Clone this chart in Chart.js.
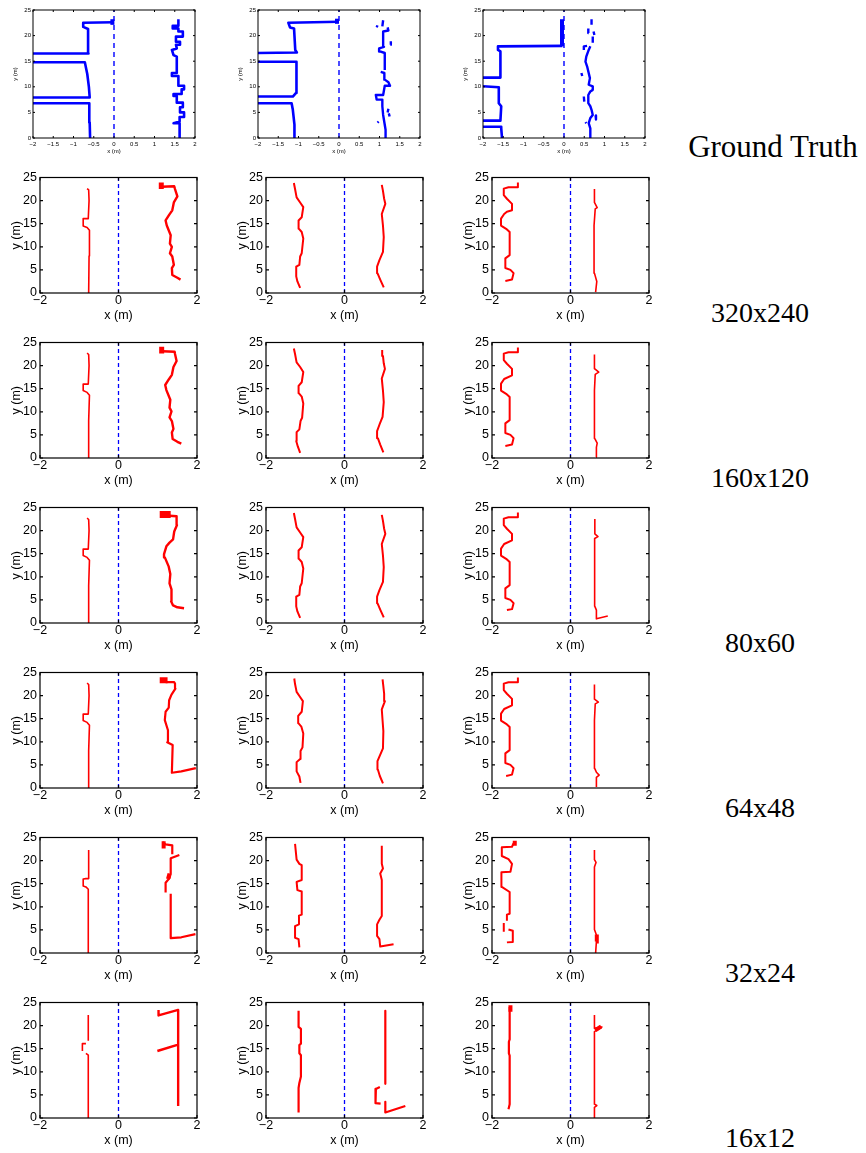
<!DOCTYPE html>
<html>
<head>
<meta charset="utf-8">
<script src="https://cdn.jsdelivr.net/npm/chart.js@4.4.1/dist/chart.umd.min.js"></script>
<style>
  html, body { margin: 0; padding: 0; background: #fff; }
  body { position: relative; width: 866px; height: 1153px; overflow: hidden; }
  canvas { position: absolute; }
  .rowlabel {
    position: absolute; transform: translate(-50%, -50%);
    font-family: "Liberation Serif", "Times New Roman", serif;
    font-size: 28px; color: #000; white-space: nowrap;
  }
  .rowlabel.big { font-size: 31px; }
</style>
</head>
<body>
<script>
// ---- axis ticks and reference line ----
const X_TICKS_FINE = [-2, -1.5, -1, -0.5, 0, 0.5, 1, 1.5, 2];
const X_TICKS = [-2, 0, 2];
const Y_TICKS = [0, 5, 10, 15, 20, 25];
const CENTER_LINE = [[0, 0], [0, 25]];
const ROW_NAMES = ['Ground Truth', '320x240', '160x120', '80x60', '64x48', '32x24', '16x12'];

// ---- ground truth wall maps (x, y in metres; null breaks a line) ----
const gtA_left = [[-0.59,0],[-0.6,3],[-0.61,6.8],[-2,6.8],null,
  [-2,7.9],[-0.6,7.9],[-0.62,10],[-0.66,12.5],[-0.72,14.8],[-2,14.8],null,
  [-2,16.5],[-0.63,16.5],[-0.64,21.3],[-0.76,21.7],[-0.76,22.5],[0,22.6]];
const gtA_right = [[1.62,0],[1.62,2.9],[1.47,2.9],[1.62,3.2],[1.62,4.1],[1.73,4.1],[1.73,5.0],[1.63,5.0],
  [1.63,6.0],[1.70,6.0],[1.70,6.9],[1.55,6.9],[1.55,8.2],[1.47,8.2],[1.47,8.6],[1.67,8.6],[1.67,9.5],
  [1.73,9.5],[1.73,10.2],[1.59,10.2],[1.59,12.1],[1.43,12.1],[1.43,12.7],[1.55,12.7],[1.55,15.9],
  [1.47,16.2],[1.43,17.2],[1.55,17.5],[1.53,18.2],[1.63,18.2],[1.63,18.8],[1.53,18.8],[1.53,19.8],
  [1.70,19.8],[1.70,20.8],[1.59,20.8],[1.59,21.4],[1.45,21.4],[1.45,21.9],[1.59,21.9],[1.59,23.2]];
const gtA_blob = [[-0.04,22.1],[-0.04,23.2]];

const gtB_left = [[-1.11,0],[-1.11,2.4],[-1.09,2.6],[-1.14,5.5],[-1.17,6.8],[-2,6.8],null,
  [-2,8.1],[-1.14,8.1],[-1.06,8.8],[-1.06,14.6],[-1.04,14.9],[-2,14.9],null,
  [-2,16.6],[-1.04,16.7],[-1.08,17.2],[-1.11,21.4],[-1.21,21.6],[-1.25,22.5],[0,22.7]];
const gtB_right = [[1.16,0],[1.15,1.6],[1.09,4.5],[1.07,6.2],[1.07,7.5],[0.93,7.5],[0.91,8.4],[1.09,8.4],
  [1.13,10.2],[1.26,10.2],[1.22,10.9],[1.13,11.4],[1.12,12.7],[1.03,12.9],null,
  [1.13,13.3],[1.13,16.6],[1.01,16.9],[0.99,17.5],[1.11,17.8],[1.09,20.8],[1.22,21.0],[1.2,21.6],null,
  [1.07,21.8],[1.09,23.0],null,
  [1.25,4.2],[1.23,4.8],null,[0.95,3.0],[0.98,3.2],null,[1.27,18.2],[1.28,18.9],null,
  [0.93,21.6],[0.95,22.0],null,[1.2,5.0],[1.22,5.7]];
const gtB_blob = [[-0.05,22.3],[-0.05,23.3]];

const gtC_left = [[-1.53,0],[-1.55,1.9],[-1.55,2.2],[-2,2.2],null,
  [-2,3.4],[-1.57,3.4],[-1.55,6.2],[-1.61,6.8],[-1.61,9.9],[-2,10.1],null,
  [-2,11.8],[-1.57,11.8],[-1.57,16.9],[-1.63,17.2],[-1.63,17.9],[-0.04,18.0]];
const gtC_right = [[0.65,0],[0.65,1.9],[0.61,2.9],[0.65,3.9],[0.71,4.5],[0.68,5.5],[0.65,6.2],[0.6,6.8],
  [0.6,8.4],[0.65,9.1],[0.71,9.4],[0.71,10.1],[0.61,10.4],[0.64,11.7],[0.57,14],[0.53,14.9],[0.55,15.9],
  [0.61,17.2],[0.65,17.9],null,[0.49,17.2],[0.49,17.9],[0.57,18],null,[0.71,18.6],[0.71,19.8],null,
  [0.61,20.5],[0.6,21.4],null,[0.68,22.1],[0.68,23.2],null,
  [0.49,8.1],[0.5,7.1],null,[0.43,12.7],[0.45,12.1],null,[0.53,3.1],[0.55,2.9],null,
  [0.78,4.4],[0.79,3.6],null,[0.73,20.8],[0.75,20.1]];
const gtC_blob = [[-0.05,17.9],[-0.05,23.2]];

// ---- reconstructed wall maps, 320x240 ----
const r320A_left = [[-0.76,0],[-0.75,8],[-0.74,13.6],[-0.8,14.2],[-0.9,14.5],[-0.9,16.1],[-0.77,16.1],
  [-0.75,20],[-0.76,22.3],[-0.8,22.6]];
const r320A_right = [[1.58,2.9],[1.5,3.3],[1.37,3.9],[1.36,5.4],[1.41,6.1],[1.37,7.9],[1.31,8.6],[1.36,10],
  [1.31,10.7],[1.33,12.5],[1.23,14.6],[1.2,15.7],[1.29,16.9],[1.37,17.9],[1.41,19.6],[1.5,20.9],
  [1.44,22.5],[1.42,23.1],[1.1,23.0]];
const r320A_blob = [[1.09,22.5],[1.09,23.9]];
const r320B_left = [[-1.13,1.1],[-1.2,2.5],[-1.23,3.6],[-1.23,5.7],[-1.15,6.1],[-1.13,7.9],[-1.09,8.6],
  [-1.05,11.8],[-1.09,13.2],[-1.16,13.9],[-1.17,15.7],[-1.09,16.4],[-1.05,18.6],[-1.13,19.6],
  [-1.22,20.7],[-1.26,22.5],[-1.29,23.8]];
const r320B_right = [[1.0,1.2],[0.91,2.9],[0.84,4.3],[0.83,5.7],[0.89,7.1],[0.98,8.9],[1.0,12.1],
  [0.98,14.6],[0.95,17.1],[1.04,19.3],[1.01,20.4],[0.98,22.1],[0.95,23.4]];
const r320C_left = [[-1.66,2.6],[-1.49,2.9],[-1.45,4.3],[-1.53,5.0],[-1.66,5.4],[-1.66,7.5],[-1.55,8.2],
  [-1.55,11.1],[-1.55,13.2],[-1.64,13.9],[-1.77,14.6],[-1.77,16.1],[-1.69,17.1],[-1.62,17.6],
  [-1.49,17.9],[-1.49,19.3],[-1.62,20.4],[-1.7,21.2],[-1.7,22.6],[-1.58,22.9],[-1.36,22.9],[-1.34,23.9]];
const r320C_right = [[0.64,0.2],[0.67,2.5],[0.61,4.3],[0.6,14.6],[0.63,18.2],[0.68,18.5],[0.61,19.6],[0.61,22.5]];

// ---- 160x120 ----
const r160A_left = [[-0.77,0],[-0.76,8],[-0.74,13.6],[-0.8,14.2],[-0.9,14.6],[-0.9,16.0],[-0.77,16.0],
  [-0.75,20],[-0.76,22.4],[-0.8,22.7]];
const r160A_right = [[1.6,3.1],[1.5,3.5],[1.38,4.1],[1.36,5.5],[1.4,6.3],[1.36,8.0],[1.3,8.8],[1.35,10.1],
  [1.3,10.9],[1.32,12.6],[1.22,14.7],[1.19,15.8],[1.28,17.0],[1.36,18.0],[1.4,19.7],[1.48,21.0],
  [1.44,22.5],[1.43,23.0],[1.12,23.1]];
const r160A_blob = [[1.1,22.6],[1.1,24.1]];
const r160B_left = [[-1.13,1.1],[-1.19,2.5],[-1.23,3.7],[-1.22,5.6],[-1.15,6.2],[-1.12,8.0],[-1.08,8.7],
  [-1.05,11.8],[-1.09,13.3],[-1.16,14.0],[-1.17,15.6],[-1.09,16.4],[-1.05,18.6],[-1.13,19.7],
  [-1.22,20.7],[-1.26,22.5],[-1.29,23.7]];
const r160B_right = [[0.99,1.2],[0.91,2.9],[0.85,4.3],[0.83,5.8],[0.89,7.2],[0.97,8.9],[1.0,12.1],
  [0.98,14.6],[0.95,17.2],[1.03,19.3],[1.0,20.5],[0.98,22.1],[0.96,23.4]];
const r160C_left = [[-1.66,2.6],[-1.49,2.9],[-1.45,4.3],[-1.53,5.0],[-1.66,5.4],[-1.66,7.5],[-1.55,8.2],
  [-1.55,13.2],[-1.64,13.9],[-1.77,14.6],[-1.77,16.1],[-1.69,17.1],[-1.49,17.9],[-1.49,19.3],
  [-1.62,20.4],[-1.7,21.2],[-1.7,22.6],[-1.58,22.9],[-1.36,22.9],[-1.34,23.9]];
const r160C_right = [[0.65,0.2],[0.66,2.3],[0.68,3.2],[0.62,4.2],[0.61,14.6],[0.63,18.1],[0.72,18.6],
  [0.62,19.3],[0.61,22.4]];

// ---- 80x60 ----
const r80A_left = [[-0.77,0],[-0.76,8],[-0.74,13.6],[-0.8,14.2],[-0.9,14.6],[-0.9,16.0],[-0.77,16.0],
  [-0.75,20],[-0.76,22.4],[-0.8,22.7]];
const r80A_right = [[1.67,3.2],[1.5,3.4],[1.39,3.8],[1.34,4.7],[1.36,6],[1.34,7.3],[1.3,8.6],[1.32,10.6],
  [1.28,12.2],[1.18,14.2],[1.16,14.9],[1.22,16.6],[1.3,17.4],[1.39,18.1],[1.42,19.8],[1.49,21.2],
  [1.49,22.4],[1.47,23.1],[1.3,23.2]];
const r80A_blob = [[1.05,23.5],[1.33,23.5]];
const r80B_left = [[-1.13,1.1],[-1.2,2.5],[-1.23,3.6],[-1.23,5.7],[-1.15,6.1],[-1.13,7.9],[-1.09,8.6],
  [-1.05,11.8],[-1.09,13.2],[-1.16,13.9],[-1.17,15.7],[-1.09,16.4],[-1.05,18.6],[-1.13,19.6],
  [-1.22,20.7],[-1.26,22.5],[-1.29,23.8]];
const r80B_right = [[1.0,1.2],[0.91,2.9],[0.84,4.3],[0.83,5.7],[0.89,7.1],[0.98,8.9],[1.0,12.1],
  [0.98,14.6],[0.95,17.1],[1.04,19.3],[1.01,20.4],[0.98,22.1],[0.95,23.4]];
const r80C_left = [[-1.62,2.8],[-1.49,3.0],[-1.45,4.3],[-1.53,5.0],[-1.66,5.4],[-1.66,7.5],[-1.55,8.2],
  [-1.55,13.2],[-1.64,13.9],[-1.77,14.6],[-1.77,16.1],[-1.69,17.1],[-1.49,17.9],[-1.49,19.3],
  [-1.62,20.4],[-1.7,21.2],[-1.7,22.6],[-1.58,22.9],[-1.36,22.9],[-1.34,23.9]];
const r80C_right = [[0.95,1.5],[0.66,0.9],[0.66,2.8],[0.62,3.6],[0.61,14.6],[0.62,18.3],[0.7,18.7],
  [0.62,19.3],[0.62,22.5]];

// ---- 64x48 ----
const r64A_left = [[-0.77,0],[-0.76,8],[-0.74,13.6],[-0.8,14.2],[-0.9,14.6],[-0.9,16.0],[-0.77,16.0],
  [-0.75,20],[-0.76,22.4],[-0.8,22.7]];
const r64A_right = [[1.97,4.3],[1.6,3.6],[1.36,3.3],[1.38,9.3],[1.24,9.9],[1.26,12.5],[1.18,14.7],
  [1.2,16.5],[1.28,17.4],[1.29,19.0],[1.35,20.2],[1.45,21.5],[1.44,22.6],[1.42,22.9],[1.2,22.9]];
const r64A_blob = [[1.05,23.3],[1.25,23.3]];
const r64B_left = [[-1.12,1.1],[-1.15,2.5],[-1.22,3.6],[-1.22,5.6],[-1.13,6.3],[-1.12,8.0],[-1.07,8.8],
  [-1.05,11.8],[-1.1,13.3],[-1.17,14.0],[-1.18,15.6],[-1.09,16.5],[-1.06,18.8],[-1.14,19.8],
  [-1.22,20.8],[-1.26,22.5],[-1.28,23.7]];
const r64B_right = [[0.98,1.0],[0.9,2.6],[0.85,4.0],[0.84,5.8],[0.9,7.0],[0.98,8.6],[0.99,12.3],
  [0.97,14.6],[0.95,17.0],[1.03,18.8],[1.01,20.4],[0.99,22.0],[0.97,23.5]];
const r64C_left = [[-1.64,2.6],[-1.49,2.9],[-1.45,4.3],[-1.53,5.0],[-1.66,5.4],[-1.66,7.5],[-1.55,8.2],
  [-1.55,13.2],[-1.64,13.9],[-1.77,14.6],[-1.77,16.1],[-1.69,17.1],[-1.49,17.9],[-1.49,19.3],
  [-1.62,20.4],[-1.7,21.2],[-1.7,22.6],[-1.58,22.9],[-1.36,22.9],[-1.34,23.9]];
const r64C_right = [[0.66,0.2],[0.66,2.3],[0.73,2.8],[0.66,3.4],[0.62,4.2],[0.61,14.6],[0.63,18.2],
  [0.71,18.6],[0.62,19.2],[0.61,22.4]];

// ---- 32x24 ----
const r32A_left = [[-0.77,0],[-0.77,13.8],[-0.83,14.3],[-0.9,14.5],[-0.9,16.0],[-0.83,16.1],[-0.77,16.1],
  [-0.76,22.3]];
const r32A_right = [[1.96,4.1],[1.6,3.4],[1.33,3.2],[1.33,12.8],null,[1.2,13.1],[1.2,15.2],[1.3,16.2],
  [1.33,17.2],[1.33,20.5],[1.45,20.9],[1.55,21.2],null,[1.37,21.4],[1.37,23.3],[1.2,23.5],[1.12,24.0]];
const r32A_blob = [[1.15,22.6],[1.15,24.2],null,[1.26,16.0],[1.3,17.2]];
const r32B_left = [[-1.15,1.2],[-1.17,3.0],[-1.26,3.3],[-1.26,5.8],[-1.16,6.2],[-1.16,8.1],[-1.09,8.3],
  [-1.09,13.3],[-1.2,13.6],[-1.22,15.4],[-1.09,15.8],[-1.09,19.0],[-1.15,19.3],[-1.22,20.2],[-1.26,23.6]];
const r32B_right = [[1.25,1.9],[0.91,1.4],[0.89,3.0],[0.83,3.7],[0.83,6.2],[0.89,7.2],[0.95,8.0],
  [0.95,15.8],[0.91,17.2],[0.98,18.3],[0.95,19.3],[0.95,23.2]];
const r32C_left = [[-1.62,2.3],[-1.47,2.4],[-1.47,4.8],[-1.58,5.1],null,[-1.7,4.6],[-1.7,6.5],null,
  [-1.62,7.0],[-1.62,8.3],[-1.55,8.5],[-1.55,13.2],[-1.75,14.3],[-1.76,17.5],[-1.53,17.6],[-1.49,19.3],
  [-1.58,20.3],[-1.75,21.0],[-1.75,22.9],[-1.49,23.0],[-1.45,23.8]];
const r32C_blob = [[-1.42,23.2],[-1.42,24.3],null,[0.66,2.5],[0.67,4.0]];
const r32C_right = [[0.64,0],[0.67,3.7],[0.61,5.1],[0.61,18.6],[0.65,19.6],[0.61,20.2],[0.61,22.3]];

// ---- 16x12 ----
const r16A_left = [[-0.77,0],[-0.77,13.6],[-0.83,14.0],null,[-0.92,14.5],[-0.92,16.1],[-0.83,16.1],null,
  [-0.77,16.7],[-0.77,22.3]];
const r16A_right = [[1.52,2.6],[1.52,23.4],[1.02,22.2],[1.02,23.4],null,[0.99,14.5],[1.52,15.9]];
const r16B_left = [[-1.17,1.2],[-1.17,6.5],[-1.15,7.6],[-1.11,9],[-1.11,13.6],[-1.15,14],[-1.15,15.8],
  [-1.11,16.1],[-1.11,19.3],[-1.17,19.7],[-1.17,23.2]];
const r16B_right = [[1.04,23.2],[1.04,7.4],null,[0.9,6.7],[0.8,6.3],[0.79,3.2],[0.92,3.1],null,
  [1.04,3.5],[1.04,1.2],[1.55,2.6]];
const r16C_left = [[-1.58,1.9],[-1.55,3.0],[-1.55,13.5],[-1.57,14.0],[-1.57,16.5],[-1.55,17],[-1.55,24.0]];
const r16C_right = [[0.61,0],[0.61,2.3],[0.67,2.7],[0.61,3.0],[0.61,18.7],[0.8,19.7],[0.61,19.4],[0.61,22.3]];
const r16C_blob = [[-1.53,23.0],[-1.53,24.4],null,[0.63,19.0],[0.78,19.8]];

// ---- drawing ----
const BLUE = '#0000ff', RED = '#ff0000';
Chart.defaults.font.family = '"Liberation Sans", Arial, Helvetica, sans-serif';
Chart.defaults.color = '#000';

const toPts = arr => arr.map(p => p ? { x: p[0], y: p[1] } : { x: 0, y: null });
const fmt = v => (v < 0 ? '\u2212' : '') + String(Math.abs(v));

// MATLAB-like box with inward tick marks on all four sides
const boxPlugin = {
  id: 'box',
  afterDraw(chart, args, o) {
    const { ctx, chartArea: a, scales } = chart;
    const tl = o.tick;
    ctx.save();
    ctx.strokeStyle = '#000';
    ctx.lineWidth = o.lw;
    ctx.beginPath();
    scales.x.ticks.forEach(t => {
      const px = scales.x.getPixelForValue(t.value);
      ctx.moveTo(px, a.bottom); ctx.lineTo(px, a.bottom - tl);
      ctx.moveTo(px, a.top); ctx.lineTo(px, a.top + tl);
    });
    scales.y.ticks.forEach(t => {
      const py = scales.y.getPixelForValue(t.value);
      ctx.moveTo(a.left, py); ctx.lineTo(a.left + tl, py);
      ctx.moveTo(a.right, py); ctx.lineTo(a.right - tl, py);
    });
    ctx.stroke();
    ctx.strokeRect(a.left, a.top, a.right - a.left, a.bottom - a.top);
    ctx.restore();
  }
};

function panel(p) {
  const gt = p.gt;
  const yw = gt ? 28 : 40, pt = gt ? 8 : 10, pr = 10, xh = gt ? 20 : 30;
  const W = yw + p.w + pr, H = pt + p.h + xh;
  const c = document.createElement('canvas');
  c.width = W; c.height = H;
  c.style.left = (p.x - yw) + 'px';
  c.style.top = (p.y - pt) + 'px';
  c.style.width = W + 'px'; c.style.height = H + 'px';
  document.body.appendChild(c);

  const col = gt ? BLUE : RED;
  const datasets = [{
    data: toPts(CENTER_LINE), borderColor: BLUE, borderWidth: gt ? 1.4 : 1.3,
    borderDash: gt ? [5, 4] : [4, 3]
  }];
  p.walls.forEach(w => datasets.push({
    data: toPts(w.d), borderColor: col, borderWidth: w.lw, borderJoinStyle: 'round'
  }));
  (p.blobs || []).forEach(b => datasets.push({
    data: toPts(b.d), borderColor: col, borderWidth: b.lw, borderCapStyle: 'butt'
  }));
  datasets.forEach(d => { d.pointRadius = 0; d.tension = 0; d.spanGaps = false; d.fill = false; });

  const tickFont = { size: gt ? 6 : 12.5 };
  const titleFont = { size: gt ? 6 : 12.5 };
  new Chart(c, {
    type: 'line',
    data: { datasets },
    options: {
      responsive: false, animation: false, devicePixelRatio: 1,
      events: [],
      layout: { padding: { top: pt, right: pr, left: 0, bottom: 0 } },
      plugins: { legend: { display: false }, tooltip: { enabled: false },
                 box: { tick: gt ? 2 : 3, lw: gt ? 1 : 1.2 } },
      scales: {
        x: {
          type: 'linear', min: -2, max: 2,
          afterBuildTicks: s => { s.ticks = (gt ? X_TICKS_FINE : X_TICKS).map(v => ({ value: v })); },
          afterFit: s => { s.height = xh; },
          grid: { display: false, drawTicks: false }, border: { display: false },
          ticks: { font: tickFont, padding: gt ? 2.4 : 0.5, maxRotation: 0, autoSkip: false,
                   callback: v => fmt(v) },
          title: { display: true, text: 'x (m)', font: titleFont,
                   padding: { top: 0, bottom: gt ? 2.6 : 0 } }
        },
        y: {
          type: 'linear', min: 0, max: 25,
          afterBuildTicks: s => { s.ticks = Y_TICKS.map(v => ({ value: v })); },
          afterFit: s => { s.width = yw; },
          grid: { display: false, drawTicks: false }, border: { display: false },
          ticks: { font: tickFont, padding: gt ? 2 : 3, callback: v => fmt(v) },
          title: { display: true, text: 'y (m)', font: titleFont,
                   padding: { top: gt ? 7 : 9, bottom: 0 } }
        }
      }
    },
    plugins: [boxPlugin]
  });
}

// panel geometry (plot-area corners)
const GT_LEFT = [33, 258, 483], GT_TOP = 10, GT_W = 162, GT_H = 128;
const R_LEFT = [40, 266, 492], R_TOP0 = 177, R_STEP = 165, R_W = 157, R_H = 116;

const GT_PANELS = [
  { walls: [{ d: gtA_left, lw: 2.6 }, { d: gtA_right, lw: 2.6 }], blobs: [{ d: gtA_blob, lw: 4 }] },
  { walls: [{ d: gtB_left, lw: 2.6 }, { d: gtB_right, lw: 2.4 }], blobs: [{ d: gtB_blob, lw: 4 }] },
  { walls: [{ d: gtC_left, lw: 2.6 }, { d: gtC_right, lw: 2.4 }], blobs: [{ d: gtC_blob, lw: 4 }] }
];
const REC_ROWS = [
  [ { walls: [{ d: r320A_left, lw: 1.6 }, { d: r320A_right, lw: 2.4 }], blobs: [{ d: r320A_blob, lw: 5 }] },
    { walls: [{ d: r320B_left, lw: 2 }, { d: r320B_right, lw: 2 }] },
    { walls: [{ d: r320C_left, lw: 2 }, { d: r320C_right, lw: 1.6 }] } ],
  [ { walls: [{ d: r160A_left, lw: 1.6 }, { d: r160A_right, lw: 2.4 }], blobs: [{ d: r160A_blob, lw: 5 }] },
    { walls: [{ d: r160B_left, lw: 2 }, { d: r160B_right, lw: 2 }] },
    { walls: [{ d: r160C_left, lw: 2 }, { d: r160C_right, lw: 1.6 }] } ],
  [ { walls: [{ d: r80A_left, lw: 1.6 }, { d: r80A_right, lw: 2.4 }], blobs: [{ d: r80A_blob, lw: 7 }] },
    { walls: [{ d: r80B_left, lw: 2 }, { d: r80B_right, lw: 2 }] },
    { walls: [{ d: r80C_left, lw: 2 }, { d: r80C_right, lw: 1.6 }] } ],
  [ { walls: [{ d: r64A_left, lw: 1.6 }, { d: r64A_right, lw: 2.2 }], blobs: [{ d: r64A_blob, lw: 6 }] },
    { walls: [{ d: r64B_left, lw: 2 }, { d: r64B_right, lw: 2 }] },
    { walls: [{ d: r64C_left, lw: 2 }, { d: r64C_right, lw: 1.6 }] } ],
  [ { walls: [{ d: r32A_left, lw: 1.6 }, { d: r32A_right, lw: 2.2 }], blobs: [{ d: r32A_blob, lw: 4 }] },
    { walls: [{ d: r32B_left, lw: 2 }, { d: r32B_right, lw: 2 }] },
    { walls: [{ d: r32C_left, lw: 2 }, { d: r32C_right, lw: 1.6 }], blobs: [{ d: r32C_blob, lw: 4 }] } ],
  [ { walls: [{ d: r16A_left, lw: 1.6 }, { d: r16A_right, lw: 2.4 }] },
    { walls: [{ d: r16B_left, lw: 2.2 }, { d: r16B_right, lw: 2.2 }] },
    { walls: [{ d: r16C_left, lw: 2.2 }, { d: r16C_right, lw: 1.6 }], blobs: [{ d: r16C_blob, lw: 4 }] } ]
];

GT_PANELS.forEach((p, i) => panel(Object.assign({ gt: true, x: GT_LEFT[i], y: GT_TOP, w: GT_W, h: GT_H }, p)));
REC_ROWS.forEach((row, r) => row.forEach((p, i) =>
  panel(Object.assign({ gt: false, x: R_LEFT[i], y: R_TOP0 + r * R_STEP, w: R_W, h: R_H }, p))));

// row captions
const ROW_X = [773, 760, 760, 760, 760, 760, 760];
const ROW_Y = [147, 313, 478, 643, 808, 973, 1138];
ROW_NAMES.forEach((t, i) => {
  const d = document.createElement('div');
  d.className = 'rowlabel' + (i === 0 ? ' big' : '');
  d.textContent = t;
  d.style.left = ROW_X[i] + 'px';
  d.style.top = ROW_Y[i] + 'px';
  document.body.appendChild(d);
});
</script>
</body>
</html>
